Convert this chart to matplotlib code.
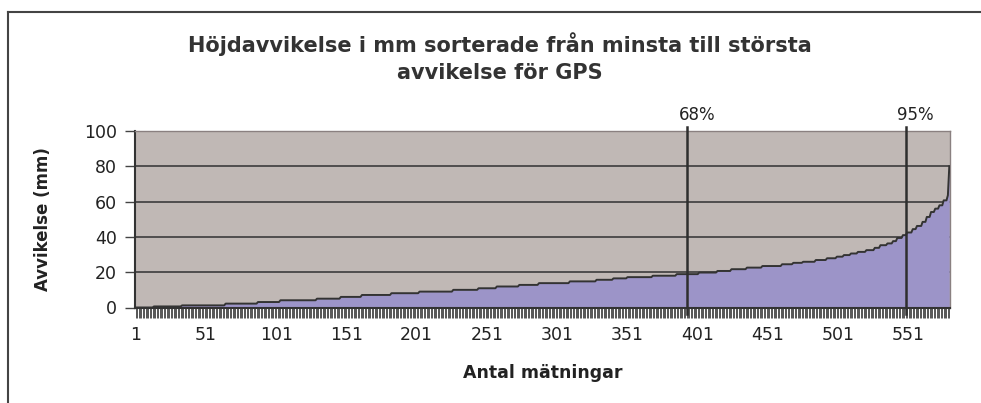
import numpy as np
import matplotlib
matplotlib.use('Agg')
import matplotlib.pyplot as plt

matplotlib.rc('font', family=['DejaVu Sans'])

# sorted deviations: level value holds from step_start up to the next start
n_meas = 580
step_start = [1, 14, 34, 65, 88, 104, 130, 147, 162, 183, 203, 227, 245, 258,
              274, 288, 310, 329, 341, 351, 369, 386, 402, 415, 425, 436, 447,
              461, 469, 476, 485, 493, 500, 505, 510, 515, 521, 527, 531, 536,
              540, 543, 547, 550, 554, 557, 561, 564, 567, 570, 573, 576, 579,
              580]
step_value = [0, 0.6, 1.2, 2.2, 3.1, 4.1, 5.0, 6.0, 7.1, 8.1, 9.0, 10.0, 10.9,
              11.9, 12.8, 13.8, 14.8, 15.7, 16.5, 17.2, 18.0, 18.9, 19.8, 20.7,
              21.7, 22.6, 23.5, 24.5, 25.3, 25.9, 26.9, 27.9, 28.8, 29.7, 30.6,
              31.5, 32.5, 33.8, 35.3, 36.3, 37.6, 39.4, 41.0, 42.5, 44.4, 46.2,
              48.5, 51.3, 54.1, 56.0, 57.9, 60.7, 63.6, 80.0]

pct_labels = ['68%', '95%']
pct_pos = [393.5, 549]

xtick_labels = [str(v) for v in range(1, 552, 50)]
yticks = [0, 20, 40, 60, 80, 100]

counts = np.diff(step_start + [n_meas + 1])
dev = np.repeat(step_value, counts)
idx = np.arange(1, n_meas + 1)

fig = plt.figure(figsize=(9.81, 4.03), dpi=100)
ax = fig.add_axes([135 / 981, 95.5 / 403, 815 / 981, 176.5 / 403])
ax.set_facecolor('#c0b8b5')

for y in yticks[1:-1]:
    ax.axhline(y, color='#3c3c3c', lw=1.2, zorder=1)

ax.fill_between(idx, dev, 0, color='#9c94c8', lw=0, zorder=2)
ax.plot(idx, dev, color='#333333', lw=1.4, zorder=3)

for lab, p in zip(pct_labels, pct_pos):
    ax.plot([p, p], [-3.7, 102.5], color='#2e2e2e', lw=1.8, zorder=4,
            clip_on=False)
    ax.text(p + 7, 109, lab, ha='center', va='center', fontsize=12,
            color='#222222')

ax.set_xlim(0.5, n_meas + 0.5)
ax.set_ylim(0, 100)
ax.set_yticks(yticks)
ax.set_yticklabels([str(v) for v in yticks], fontsize=12.5, color='#222222')
ax.set_xticks(idx, minor=True)
ax.set_xticks([int(s) for s in xtick_labels])
ax.set_xticklabels(xtick_labels, fontsize=12.5, color='#222222')
ax.tick_params(axis='x', which='minor', length=7, width=0.7, color='#555555')
ax.tick_params(axis='x', which='major', length=7, width=0.7, color='#555555',
               pad=6)
ax.tick_params(axis='y', length=7, width=1, color='#444444', pad=6)

for side in ['top', 'right']:
    ax.spines[side].set_color('#8a8080')
    ax.spines[side].set_linewidth(1)
ax.spines['left'].set_color('#333333')
ax.spines['bottom'].set_color('#333333')
ax.spines['left'].set_linewidth(1.5)
ax.spines['bottom'].set_linewidth(1.5)

ax.set_xlabel('Antal mätningar', fontsize=12.5, fontweight='bold',
              color='#222222', va='center')
ax.set_ylabel('Avvikelse (mm)', fontsize=12, fontweight='bold',
              color='#222222', va='center')
ax.xaxis.set_label_coords(0.5, (307.5 - 373) / 176.5)
ax.yaxis.set_label_coords((43 - 135) / 815, 0.5)

fig.text(500 / 981, 1 - 57.5 / 403,
         'Höjdavvikelse i mm sorterade från minsta till största\n'
         'avvikelse för GPS', ha='center', va='center', fontsize=15,
         fontweight='bold', color='#333333', linespacing=1.45)

# chart frame, only left and top edges are inside the picture
fig.add_artist(plt.Line2D([8 / 981, 8 / 981], [0, 1 - 12 / 403],
                          color='#444444', lw=1.5))
fig.add_artist(plt.Line2D([8 / 981, 1], [1 - 12 / 403, 1 - 12 / 403],
                          color='#444444', lw=1.5))

fig.savefig('out.png', dpi=100)
